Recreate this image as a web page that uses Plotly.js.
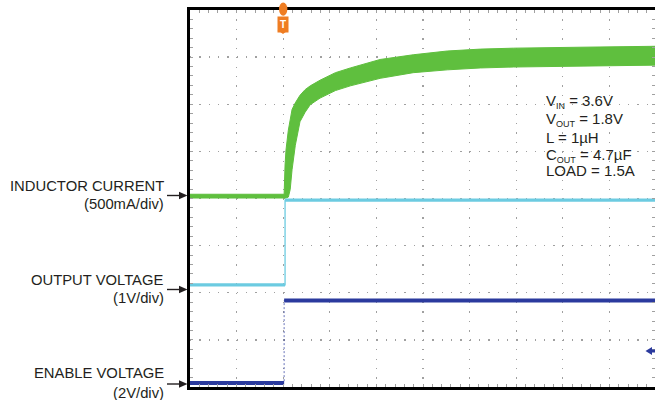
<!DOCTYPE html>
<html><head><meta charset="utf-8">
<script src="https://cdn.plot.ly/plotly-3.0.1.min.js"></script>
<style>html,body{margin:0;padding:0;background:#fff}</style>
</head><body><div id="chart" style="width:655px;height:400px"></div>
<script>
// ---- data (time in scope divisions, relative to the trigger) ----
const inductorTime   = [-2, 0, 0.02, 0.04, 0.06, 0.11, 0.15, 0.19, 0.26, 0.36, 0.47, 0.58, 0.79, 1.12, 1.44, 2.08, 2.79, 3.52, 4.23, 4.94, 6.37, 7.98];
const inductorUpperA = [0.02, 0.02, 0.02, 0.33, 0.49, 0.70, 0.83, 0.92, 0.99, 1.07, 1.13, 1.17, 1.23, 1.31, 1.36, 1.45, 1.50, 1.54, 1.56, 1.57, 1.58, 1.59];
const inductorLowerA = [-0.02, -0.02, -0.02, -0.02, -0.02, -0.01, 0.07, 0.28, 0.54, 0.79, 0.89, 0.97, 1.04, 1.12, 1.17, 1.25, 1.31, 1.34, 1.36, 1.37, 1.38, 1.39];
const outputTime     = [-2, 0.04, 0.04, 7.98];
const outputVoltageV = [0, 0, 1.8, 1.8];
const enableTime     = [-2, 0.02, 0.02, 7.98];
const enableVoltageV = [0, 0, 3.5, 3.5];
const channelNames   = ['INDUCTOR CURRENT', 'OUTPUT VOLTAGE', 'ENABLE VOLTAGE'];
const channelScales  = ['(500mA/div)', '(1V/div)', '(2V/div)'];
const conditionLines = ['V<sub><span style="font-size:9px">IN</span></sub> = 3.6V', 'V<sub><span style="font-size:9px">OUT</span></sub> = 1.8V', 'L = 1µH', 'C<sub><span style="font-size:9px">OUT</span></sub> = 4.7µF', 'LOAD = 1.5A'];

// ---- channel scaling (units per division, ground reference in divisions) ----
const chInd = {perDiv: 0.5, ref: 4.05};
const chOut = {perDiv: 1.0, ref: 2.166};
const chEn  = {perDiv: 2.0, ref: 0.085};
const toDiv = (ch, arr) => arr.map(v => ch.ref + v / ch.perDiv);

const GREEN = '#5fbf3e', CYAN = '#6ccbe1', BLUE = '#2b3a9e', TXT = '#231f20', ORANGE = '#ef7d22';

// split a step trace into flat (thick) segments
function flats(xs, ys) {
  const x = [], y = [];
  for (let i = 0; i < xs.length; i++) {
    if (i > 0 && xs[i] === xs[i - 1]) { x.push(null); y.push(null); }
    x.push(xs[i]); y.push(ys[i]);
  }
  return {x, y};
}

const outDiv = toDiv(chOut, outputVoltageV);
const enDiv = toDiv(chEn, enableVoltageV);
const outFlat = flats(outputTime, outDiv);
const enFlat = flats(enableTime, enDiv);

const traces = [
  {x: inductorTime, y: toDiv(chInd, inductorLowerA), mode: 'lines', line: {color: GREEN, width: 1}, hoverinfo: 'skip'},
  {x: inductorTime, y: toDiv(chInd, inductorUpperA), mode: 'lines', fill: 'tonexty', fillcolor: GREEN, line: {color: GREEN, width: 1}, hoverinfo: 'skip'},
  {x: outputTime, y: outDiv, mode: 'lines', line: {color: CYAN, width: 1.3}, hoverinfo: 'skip'},
  {x: outFlat.x, y: outFlat.y, mode: 'lines', line: {color: CYAN, width: 3.2}, connectgaps: false, hoverinfo: 'skip'},
  {x: enableTime, y: enDiv, mode: 'lines', line: {color: BLUE, width: 1, dash: '2px,2px'}, opacity: 0.7, hoverinfo: 'skip'},
  {x: enFlat.x, y: enFlat.y, mode: 'lines', line: {color: BLUE, width: 4}, connectgaps: false, hoverinfo: 'skip'}
];

const W = 655, H = 400, L = 190, T = 10, B = 13;
const plotW = W - L, plotH = H - T - B;
const px2paperX = px => (px - L) / plotW;
const py2paperY = py => (H - B - py) / plotH;
const P = (px, py) => px2paperX(px) + ',' + py2paperY(py);

const annotations = [];
const shapes = [];
const labelFont = {family: 'Liberation Sans, Arial, sans-serif', size: 14.8, color: TXT};
const nameY = [185.5, 279.5, 372.5];
const scaleY = [203.5, 297.5, 392.5];
const arrowY = [195.5, 289.5, 384];
for (let i = 0; i < channelNames.length; i++) {
  annotations.push({xref: 'paper', yref: 'paper', x: px2paperX(165.5), y: py2paperY(nameY[i]), xanchor: 'right', yanchor: 'middle', text: channelNames[i], showarrow: false, font: labelFont});
  annotations.push({xref: 'paper', yref: 'paper', x: px2paperX(165.5), y: py2paperY(scaleY[i]), xanchor: 'right', yanchor: 'middle', text: channelScales[i], showarrow: false, font: labelFont});
  const ay = arrowY[i];
  shapes.push({type: 'line', xref: 'paper', yref: 'paper', x0: px2paperX(167), x1: px2paperX(181), y0: py2paperY(ay), y1: py2paperY(ay), line: {color: TXT, width: 1.4}});
  shapes.push({type: 'path', xref: 'paper', yref: 'paper', path: 'M' + P(179, ay - 3.8) + ' L' + P(187.5, ay) + ' L' + P(179, ay + 3.8) + ' Z', fillcolor: TXT, line: {width: 0}});
}
const condY = [101, 119, 137, 155, 171];
for (let i = 0; i < conditionLines.length; i++) {
  annotations.push({xref: 'paper', yref: 'paper', x: px2paperX(544), y: py2paperY(condY[i]), xanchor: 'left', yanchor: 'middle', text: conditionLines[i], showarrow: false, font: {family: 'Liberation Sans, Arial, sans-serif', size: 15, color: TXT}});
}
// trigger marker
annotations.push({xref: 'x', yref: 'paper', x: 0, y: 1, yanchor: 'top', yshift: -6, text: '<b>T</b>', showarrow: false, bgcolor: ORANGE, borderpad: 2, font: {family: 'Liberation Sans, Arial, sans-serif', size: 10, color: '#fff'}});
shapes.push({type: 'circle', xref: 'x', yref: 'paper', x0: -0.09, x1: 0.09, y0: 0.985, y1: 1.02, fillcolor: ORANGE, line: {width: 0}});
shapes.push({type: 'path', xref: 'paper', yref: 'paper', path: 'M' + P(277.5, 30) + ' L' + P(283, 34) + ' L' + P(288.5, 30) + ' Z', fillcolor: ORANGE, line: {width: 0}});
// channel marker at right
shapes.push({type: 'path', xref: 'paper', yref: 'paper', path: 'M' + P(655, 349.5) + ' L' + P(652, 349.5) + ' L' + P(652, 347) + ' L' + P(645.5, 351) + ' L' + P(652, 355) + ' L' + P(652, 352.5) + ' L' + P(655, 352.5) + ' Z', fillcolor: BLUE, line: {width: 0}});

const axisCommon = {
  showticklabels: false, zeroline: false, showgrid: true,
  gridcolor: '#a0a0a0', gridwidth: 1.3,
  ticks: 'inside', ticklen: 3, tickcolor: '#a0a0a0', tickwidth: 1,
  showline: true, linecolor: '#000', linewidth: 3, mirror: 'allticks',
  minor: {ticks: 'inside', ticklen: 3, tickcolor: '#a0a0a0', showgrid: false},
  fixedrange: true
};

const layout = {
  width: W, height: H,
  margin: {l: L, r: 0, t: T, b: B, pad: 0},
  paper_bgcolor: '#fff', plot_bgcolor: '#fff',
  showlegend: false,
  xaxis: Object.assign({}, axisCommon, {range: [-2, -2 + plotW / 46.6], tick0: 0, dtick: 1, griddash: '1.3px,8.12px', minor: Object.assign({}, axisCommon.minor, {dtick: 0.2})}),
  yaxis: Object.assign({}, axisCommon, {range: [0, 8], tick0: 0, dtick: 1, griddash: '1.3px,8.02px', minor: Object.assign({}, axisCommon.minor, {dtick: 0.2})}),
  shapes: shapes,
  annotations: annotations
};

Plotly.newPlot('chart', traces, layout, {staticPlot: true, displayModeBar: false});
</script>
</body></html>
